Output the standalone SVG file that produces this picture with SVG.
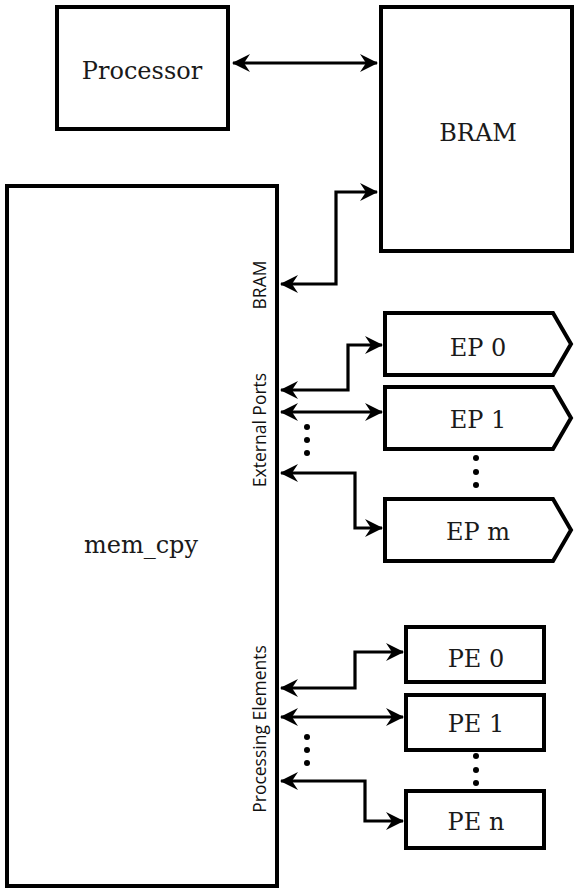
<svg xmlns="http://www.w3.org/2000/svg" width="578" height="891" viewBox="0 0 578 891">
<style>
.box{fill:#fff;stroke:#000;stroke-width:4}
.lbl{font-family:"DejaVu Serif","Liberation Serif",serif;font-size:24px;fill:#1a1a1a;text-anchor:middle}
.port{font-family:"Open Sans","Noto Sans",sans-serif;font-size:17.5px;fill:#111;text-anchor:middle}
.wire{fill:none;stroke:#000;stroke-width:3.2;marker-start:url(#ah);marker-end:url(#ah)}
.dot{fill:#000}
</style>
<defs>
<marker id="ah" viewBox="0 0 18 18" refX="17" refY="9" markerWidth="18" markerHeight="18" markerUnits="userSpaceOnUse" orient="auto-start-reverse">
<path d="M0,0 L18,9 L0,18 L6,9 z" fill="#000"/>
</marker>
</defs>
<rect width="578" height="891" fill="#fff"/>
<g id="processor"><rect class="box" x="57" y="7" width="171" height="122"/><text class="lbl" x="142" y="79">Processor</text></g>
<g id="bram"><rect class="box" x="381" y="7" width="191" height="244"/><text class="lbl" x="478" y="141">BRAM</text></g>
<g id="mem_cpy"><rect class="box" x="7" y="186" width="270" height="700"/><text class="lbl" x="141" y="553">mem_cpy</text>
<text class="port" transform="translate(266,285) rotate(-90)">BRAM</text>
<text class="port" transform="translate(266,430) rotate(-90)">External Ports</text>
<text class="port" transform="translate(266,729) rotate(-90)">Processing Elements</text>
</g>
<g id="ep0"><polygon class="box" points="385,313 553,313 571,344 553,375 385,375"/><text class="lbl" x="478" y="356">EP 0</text></g>
<g id="ep1"><polygon class="box" points="385,387 553,387 571,418 553,449 385,449"/><text class="lbl" x="478" y="428">EP 1</text></g>
<g id="epm"><polygon class="box" points="385,499 553,499 571,530 553,561 385,561"/><text class="lbl" x="478" y="540">EP m</text></g>
<g id="pe0"><rect class="box" x="406" y="627" width="138" height="55"/><text class="lbl" x="476" y="667">PE 0</text></g>
<g id="pe1"><rect class="box" x="406" y="695" width="138" height="55"/><text class="lbl" x="476" y="732">PE 1</text></g>
<g id="pen"><rect class="box" x="406" y="791" width="138" height="57"/><text class="lbl" x="476" y="830">PE n</text></g>
<g id="connectors">
<path class="wire" d="M233,63 L377,63"/>
<path class="wire" d="M281,284 L336,284 L336,192 L377,192"/>
<path class="wire" d="M281,390 L348,390 L348,345 L382,345"/>
<path class="wire" d="M281,412 L382,412"/>
<path class="wire" d="M281,473 L355,473 L355,528 L382,528"/>
<path class="wire" d="M281,688 L355,688 L355,652 L403,652"/>
<path class="wire" d="M281,717 L403,717"/>
<path class="wire" d="M281,781 L365,781 L365,821 L403,821"/>
<circle class="dot" cx="307" cy="427" r="3"/><circle class="dot" cx="307" cy="440" r="3"/><circle class="dot" cx="307" cy="453" r="3"/>
<circle class="dot" cx="476" cy="458" r="3"/><circle class="dot" cx="476" cy="472" r="3"/><circle class="dot" cx="476" cy="485" r="3"/>
<circle class="dot" cx="307" cy="737" r="3"/><circle class="dot" cx="307" cy="750" r="3"/><circle class="dot" cx="307" cy="763" r="3"/>
<circle class="dot" cx="476" cy="756" r="3"/><circle class="dot" cx="476" cy="770" r="3"/><circle class="dot" cx="476" cy="783" r="3"/>
</g>
</svg>
